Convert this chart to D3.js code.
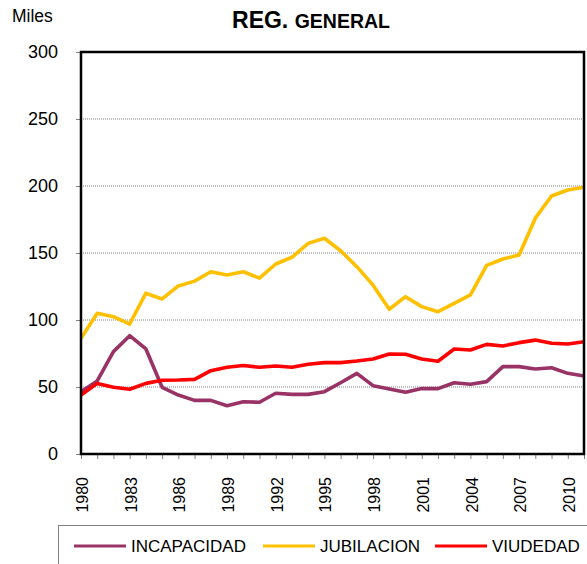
<!DOCTYPE html>
<html>
<head>
<meta charset="utf-8">
<script src="https://cdn.jsdelivr.net/npm/d3@7/dist/d3.min.js"></script>
<style>
  body { margin: 0; background: #fff; }
  svg { font-family: "Liberation Sans", Arial, sans-serif; }
</style>
</head>
<body>
<svg id="chart" width="587" height="564"></svg>
<script>
// years 1980..2011
const years = d3.range(1980, 2012);

const incapacidad = [46.5, 54.5, 76.4, 88.3, 78.4, 49.8, 44, 40, 40, 36, 39, 38.6,
  45.3, 44.5, 44.5, 46.5, 53.2, 60.2, 51, 48.5, 46, 48.8, 48.8, 53.2,
  52, 54, 65.2, 65.2, 63.4, 64.4, 60.2, 58.2];

const jubilacion = [86.3, 105, 102.5, 97, 120, 115.7, 125.4, 129, 136, 133.6, 136, 131.3,
  141.8, 146.8, 157.2, 161, 151.7, 139.8, 126, 108, 117.4, 110, 106.2, 112.4,
  118.7, 140.8, 145.5, 148.5, 176, 192.5, 197, 199];

const viudedad = [44, 52.7, 49.8, 48.3, 52.7, 55, 55.2, 55.7, 62.2, 64.7, 66, 64.7,
  65.7, 64.7, 67, 68.2, 68.2, 69.4, 70.9, 74.6, 74.4, 70.9, 69.2, 78.4,
  77.6, 81.8, 80.6, 83.1, 85, 82.6, 82.1, 83.8];

const seriesNames = ["INCAPACIDAD", "JUBILACION", "VIUDEDAD"];
const seriesColors = ["#993366", "#FFC000", "#FF0000"];
const yTicks = [0, 50, 100, 150, 200, 250, 300];

const svg = d3.select("#chart");
const margin = {top: 52, right: 3, bottom: 110, left: 81};
const W = 587, H = 564;

const x = d3.scalePoint()
    .domain(years)
    .range([margin.left, W - margin.right]);

const y = d3.scaleLinear()
    .domain([0, 300])
    .range([H - margin.bottom, margin.top]);

// title
const title = svg.append("text")
    .attr("x", 311)
    .attr("y", 28)
    .attr("text-anchor", "middle")
    .attr("font-weight", "bold");
title.append("tspan").attr("font-size", 23).text("REG. ");
title.append("tspan").attr("font-size", 19.5).text("GENERAL");

svg.append("text")
    .attr("x", 12)
    .attr("y", 22)
    .attr("font-size", 17.5)
    .text("Miles");

// gridlines
svg.append("g")
    .selectAll("line")
    .data(yTicks.filter(d => d > 0 && d < 300))
    .join("line")
    .attr("x1", margin.left)
    .attr("x2", W - margin.right)
    .attr("y1", d => y(d))
    .attr("y2", d => y(d))
    .attr("stroke", "#808080")
    .attr("stroke-width", 1)
    .attr("stroke-dasharray", "1,1");

// y axis
const yAxis = svg.append("g")
    .attr("transform", `translate(${margin.left},0)`)
    .call(d3.axisLeft(y).tickValues(yTicks).tickSize(5).tickPadding(18));
yAxis.select(".domain").remove();
yAxis.selectAll(".tick line").attr("stroke", "#808080");
yAxis.selectAll(".tick text")
    .attr("font-size", 18)
    .attr("font-family", "Liberation Sans, Arial, sans-serif")
    .attr("fill", "#000");

// x axis
const xAxis = svg.append("g")
    .attr("transform", `translate(0,${H - margin.bottom})`)
    .call(d3.axisBottom(x).tickSize(5).tickFormat(d => (d - 1980) % 3 === 0 ? d : ""));
xAxis.select(".domain").remove();
xAxis.selectAll(".tick line").attr("stroke", "#808080");
xAxis.selectAll(".tick text")
    .attr("font-size", 16)
    .attr("font-family", "Liberation Sans, Arial, sans-serif")
    .attr("fill", "#000")
    .attr("text-anchor", "end")
    .attr("transform", "rotate(-90)")
    .attr("x", -23)
    .attr("y", 1)
    .attr("dy", "0.35em");

// lines
const line = d3.line()
    .x((d, i) => x(years[i]))
    .y(d => y(d));

svg.append("g")
    .selectAll("path")
    .data([incapacidad, jubilacion, viudedad])
    .join("path")
    .attr("d", d => line(d))
    .attr("fill", "none")
    .attr("stroke", (d, i) => seriesColors[i])
    .attr("stroke-width", 3.6)
    .attr("stroke-linejoin", "round");

// plot border
svg.append("rect")
    .attr("x", margin.left)
    .attr("y", margin.top)
    .attr("width", W - margin.right - margin.left)
    .attr("height", H - margin.bottom - margin.top)
    .attr("fill", "none")
    .attr("stroke", "#000")
    .attr("stroke-width", 2.5);

// legend
svg.append("rect")
    .attr("x", 58.5)
    .attr("y", 525.5)
    .attr("width", 540)
    .attr("height", 60)
    .attr("fill", "none")
    .attr("stroke", "#808080");

const legendX = [74, 263, 435];
const leg = svg.append("g")
    .selectAll("g")
    .data(seriesNames)
    .join("g")
    .attr("transform", (d, i) => `translate(${legendX[i]},546)`);
leg.append("line")
    .attr("x1", 0).attr("x2", 52)
    .attr("stroke", (d, i) => seriesColors[i])
    .attr("stroke-width", 3);
leg.append("text")
    .attr("x", 57)
    .attr("dy", "0.35em")
    .attr("font-size", 17)
    .text(d => d);
</script>
</body>
</html>
